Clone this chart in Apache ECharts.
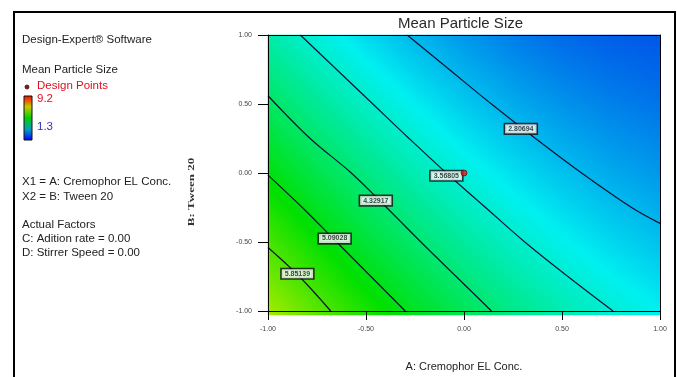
<!DOCTYPE html>
<html>
<head>
<meta charset="utf-8">
<script src="https://cdn.jsdelivr.net/npm/echarts@6/dist/echarts.min.js"></script>
<style>
  html, body { margin: 0; padding: 0; background: #fff; }
  #chart { width: 677px; height: 377px; }
</style>
</head>
<body>
<div id="chart"></div>
<script>
// Coded factor levels at which the fitted response was sampled
const cremophorLevels = [-1, -0.75, -0.5, -0.25, 0, 0.25, 0.5, 0.75, 1];
const tweenLevels = [-1, -0.75, -0.5, -0.25, 0, 0.25, 0.5, 0.75, 1];

// Mean particle size: one row per Tween 20 level (B = -1 first), one column per Cremophor level
const sizeRows = [
  [6.64, 6.04, 5.50, 5.01, 4.57, 4.17, 3.83, 3.54, 3.30],
  [6.25, 5.68, 5.16, 4.69, 4.27, 3.90, 3.58, 3.31, 3.09],
  [5.88, 5.33, 4.83, 4.38, 3.99, 3.64, 3.34, 3.09, 2.90],
  [5.51, 4.99, 4.51, 4.09, 3.71, 3.39, 3.11, 2.89, 2.71],
  [5.16, 4.66, 4.21, 3.80, 3.45, 3.15, 2.90, 2.69, 2.54],
  [4.82, 4.34, 3.91, 3.53, 3.20, 2.92, 2.69, 2.51, 2.38],
  [4.49, 4.03, 3.63, 3.27, 2.96, 2.70, 2.50, 2.34, 2.23],
  [4.17, 3.74, 3.35, 3.02, 2.73, 2.50, 2.31, 2.18, 2.09],
  [3.87, 3.45, 3.09, 2.78, 2.52, 2.30, 2.14, 2.03, 1.97]
];

// Contour levels and the traced iso-lines [A, B]
const contourLevels = [2.80694, 3.56805, 4.32917, 5.09028, 5.85139];
const contour280694 = [[-0.29, 1], [-0.075, 0.75], [0.14, 0.5], [0.365, 0.25], [0.60, 0], [0.855, -0.25], [1, -0.365]];
const contour356805 = [[-0.835, 1], [-0.65, 0.75], [-0.465, 0.5], [-0.28, 0.25], [-0.09, 0], [0.11, -0.25], [0.31, -0.5], [0.53, -0.75], [0.76, -1]];
const contour432917 = [[-1, 0.56], [-0.785, 0.25], [-0.575, 0], [-0.395, -0.25], [-0.22, -0.5], [-0.04, -0.75], [0.14, -1]];
const contour509028 = [[-1, -0.015], [-0.825, -0.25], [-0.65, -0.5], [-0.475, -0.75], [-0.30, -1]];
const contour585139 = [[-1, -0.54], [-0.84, -0.75], [-0.68, -1]];
const contourLines = [contour280694, contour356805, contour432917, contour509028, contour585139];

// Where each contour value is written on its line
const contourLabelSpots = [[0.29, 0.32], [-0.09, -0.02], [-0.45, -0.2], [-0.66, -0.475], [-0.85, -0.73]];

// Design points (centre point of the design)
const designPoints = [[0, 0]];

// Axis ticks and colour-scale limits
const axisTicks = [-1, -0.5, 0, 0.5, 1];
const sizeMin = 1.3;
const sizeMax = 9.2;

const FONT = '"Liberation Sans", Arial, Helvetica, sans-serif';

// Smooth shading of the sampled surface (bilinear between sample nodes)
function sampleSize(a, b) {
  const seg = (arr, v) => {
    let k = 0;
    while (k < arr.length - 2 && v > arr[k + 1]) k++;
    return [k, (v - arr[k]) / (arr[k + 1] - arr[k])];
  };
  const [i, u] = seg(cremophorLevels, a);
  const [j, w] = seg(tweenLevels, b);
  const v00 = sizeRows[j][i], v10 = sizeRows[j][i + 1];
  const v01 = sizeRows[j + 1][i], v11 = sizeRows[j + 1][i + 1];
  return (v00 * (1 - u) + v10 * u) * (1 - w) + (v01 * (1 - u) + v11 * u) * w;
}

const NX = 98, NY = 70;
const xCells = [], yCells = [], shade = [];
for (let i = 0; i < NX; i++) xCells.push(i);
for (let j = 0; j < NY; j++) yCells.push(j);
const aLo = axisTicks[0], aHi = axisTicks[axisTicks.length - 1];
for (let j = 0; j < NY; j++) {
  const b = aLo + (j + 0.5) * (aHi - aLo) / NY;
  for (let i = 0; i < NX; i++) {
    const a = aLo + (i + 0.5) * (aHi - aLo) / NX;
    shade.push([i, j, sampleSize(a, b)]);
  }
}

const gridBox = { left: 268, top: 35, width: 392, height: 280 };
const tickFmt = v => v.toFixed(2);

const chart = echarts.init(document.getElementById('chart'), null, { renderer: 'canvas' });

const lineSeries = contourLines.map(pts => ({
  type: 'line',
  xAxisIndex: 1, yAxisIndex: 1,
  data: pts,
  smooth: 0.35,
  symbol: 'none',
  silent: true,
  z: 3,
  lineStyle: { color: '#121230', width: 1.2 }
}));

chart.setOption({
  animation: false,
  backgroundColor: '#ffffff',
  title: {
    text: 'Mean Particle Size',
    left: 398, top: 16, padding: 0,
    textStyle: { fontFamily: FONT, fontSize: 15, fontWeight: 'normal', color: '#2a2a2a' }
  },
  grid: [
    Object.assign({}, gridBox),
    Object.assign({}, gridBox)
  ],
  visualMap: {
    type: 'continuous',
    show: false,
    seriesIndex: 0,
    min: sizeMin, max: sizeMax,
    inRange: { color: ['#0008e4', '#00f0f0', '#00e000', '#eef000', '#f00000'] }
  },
  xAxis: [
    { type: 'category', gridIndex: 0, data: xCells, show: false },
    {
      type: 'value', gridIndex: 1, min: aLo, max: aHi, interval: 0.5, z: 10,
      name: 'A: Cremophor EL Conc.', nameLocation: 'middle', nameGap: 50,
      nameTextStyle: { fontFamily: FONT, fontSize: 11, color: '#222' },
      axisLine: { onZero: false, lineStyle: { color: '#000', width: 1 } },
      axisTick: { length: 9, lineStyle: { color: '#000' } },
      axisLabel: { formatter: tickFmt, fontFamily: FONT, fontSize: 7, color: '#444', margin: 15 },
      splitLine: { show: false }
    },
    {
      type: 'value', gridIndex: 1, position: 'top', min: aLo, max: aHi, z: 10,
      axisLine: { onZero: false, lineStyle: { color: '#000', width: 1 } },
      axisTick: { show: false }, axisLabel: { show: false }, splitLine: { show: false }
    }
  ],
  yAxis: [
    { type: 'category', gridIndex: 0, data: yCells, show: false },
    {
      type: 'value', gridIndex: 1, min: aLo, max: aHi, interval: 0.5, z: 10,
      axisLine: { onZero: false, lineStyle: { color: '#000', width: 1 } },
      axisTick: { length: 10, lineStyle: { color: '#000' } },
      axisLabel: { formatter: tickFmt, fontFamily: FONT, fontSize: 7, color: '#444', margin: 16 },
      splitLine: { show: false }
    },
    {
      type: 'value', gridIndex: 1, position: 'right', min: aLo, max: aHi, z: 10,
      axisLine: { onZero: false, lineStyle: { color: '#000', width: 1 } },
      axisTick: { show: false }, axisLabel: { show: false }, splitLine: { show: false }
    }
  ],
  series: [
    {
      type: 'heatmap',
      xAxisIndex: 0, yAxisIndex: 0,
      data: shade,
      progressive: 0,
      silent: true,
      z: 1
    }
  ].concat(lineSeries, [
    {
      type: 'scatter',
      xAxisIndex: 1, yAxisIndex: 1,
      data: contourLabelSpots.map((p, k) => [p[0], p[1], contourLevels[k]]),
      symbolSize: 1,
      itemStyle: { color: 'rgba(0,0,0,0)' },
      silent: true,
      z: 5,
      label: {
        show: true, position: 'inside',
        formatter: p => p.value[2].toFixed(5),
        fontFamily: FONT, fontSize: 7, fontWeight: 'bold', color: '#111',
        backgroundColor: '#ffffff', borderColor: '#111', borderWidth: 1.6,
        padding: [1, 3, 0, 3], lineHeight: 8
      }
    },
    {
      type: 'scatter',
      xAxisIndex: 1, yAxisIndex: 1,
      data: designPoints,
      symbol: 'circle', symbolSize: 6,
      itemStyle: { color: '#e0141c', borderColor: '#5a0000', borderWidth: 0.8 },
      silent: true,
      z: 6
    }
  ]),
  graphic: [
    { type: 'rect', silent: true, z: 100, shape: { x: 14, y: 12, width: 661, height: 420 },
      style: { fill: 'none', stroke: '#000', lineWidth: 2 } },
    { type: 'text', x: 22, y: 40, style: { text: 'Design-Expert\u00ae Software', fontFamily: FONT, fontSize: 11.5, fill: '#222', verticalAlign: 'middle' } },
    { type: 'text', x: 22, y: 70, style: { text: 'Mean Particle Size', fontFamily: FONT, fontSize: 11.5, fill: '#222', verticalAlign: 'middle' } },
    { type: 'circle', shape: { cx: 27, cy: 87, r: 2 }, style: { fill: '#b00010', stroke: '#222', lineWidth: 0.8 } },
    { type: 'text', x: 37, y: 86, style: { text: 'Design Points', fontFamily: FONT, fontSize: 11.5, fill: '#e01020', verticalAlign: 'middle' } },
    { type: 'rect', shape: { x: 24, y: 96, width: 8, height: 44 },
      style: {
        stroke: '#111', lineWidth: 1,
        fill: new echarts.graphic.LinearGradient(0, 0, 0, 1, [
          { offset: 0, color: '#ff0000' },
          { offset: 0.25, color: '#c8c800' },
          { offset: 0.5, color: '#00d000' },
          { offset: 0.75, color: '#00a0c0' },
          { offset: 1, color: '#0000ff' }
        ])
      } },
    { type: 'text', x: 37, y: 99, style: { text: '9.2', fontFamily: FONT, fontSize: 11.5, fill: '#e01020', verticalAlign: 'middle' } },
    { type: 'text', x: 37, y: 127, style: { text: '1.3', fontFamily: FONT, fontSize: 11.5, fill: '#3030c0', verticalAlign: 'middle' } },
    { type: 'text', x: 22, y: 182, style: { text: 'X1 = A: Cremophor EL Conc.', fontFamily: FONT, fontSize: 11.5, fill: '#222', verticalAlign: 'middle' } },
    { type: 'text', x: 22, y: 197, style: { text: 'X2 = B: Tween 20', fontFamily: FONT, fontSize: 11.5, fill: '#222', verticalAlign: 'middle' } },
    { type: 'text', x: 22, y: 225, style: { text: 'Actual Factors', fontFamily: FONT, fontSize: 11.5, fill: '#222', verticalAlign: 'middle' } },
    { type: 'text', x: 22, y: 239, style: { text: 'C: Adition rate = 0.00', fontFamily: FONT, fontSize: 11.5, fill: '#222', verticalAlign: 'middle' } },
    { type: 'text', x: 22, y: 253, style: { text: 'D: Stirrer Speed = 0.00', fontFamily: FONT, fontSize: 11.5, fill: '#222', verticalAlign: 'middle' } },
    { type: 'text', x: 192, y: 192, rotation: Math.PI / 2, scaleX: 1.45,
      style: { text: 'B: Tween 20', fontFamily: '"Liberation Serif", "Times New Roman", serif', fontSize: 9, fontWeight: 'bold', fill: '#333', align: 'center', verticalAlign: 'middle' } }
  ]
});
</script>
</body>
</html>
